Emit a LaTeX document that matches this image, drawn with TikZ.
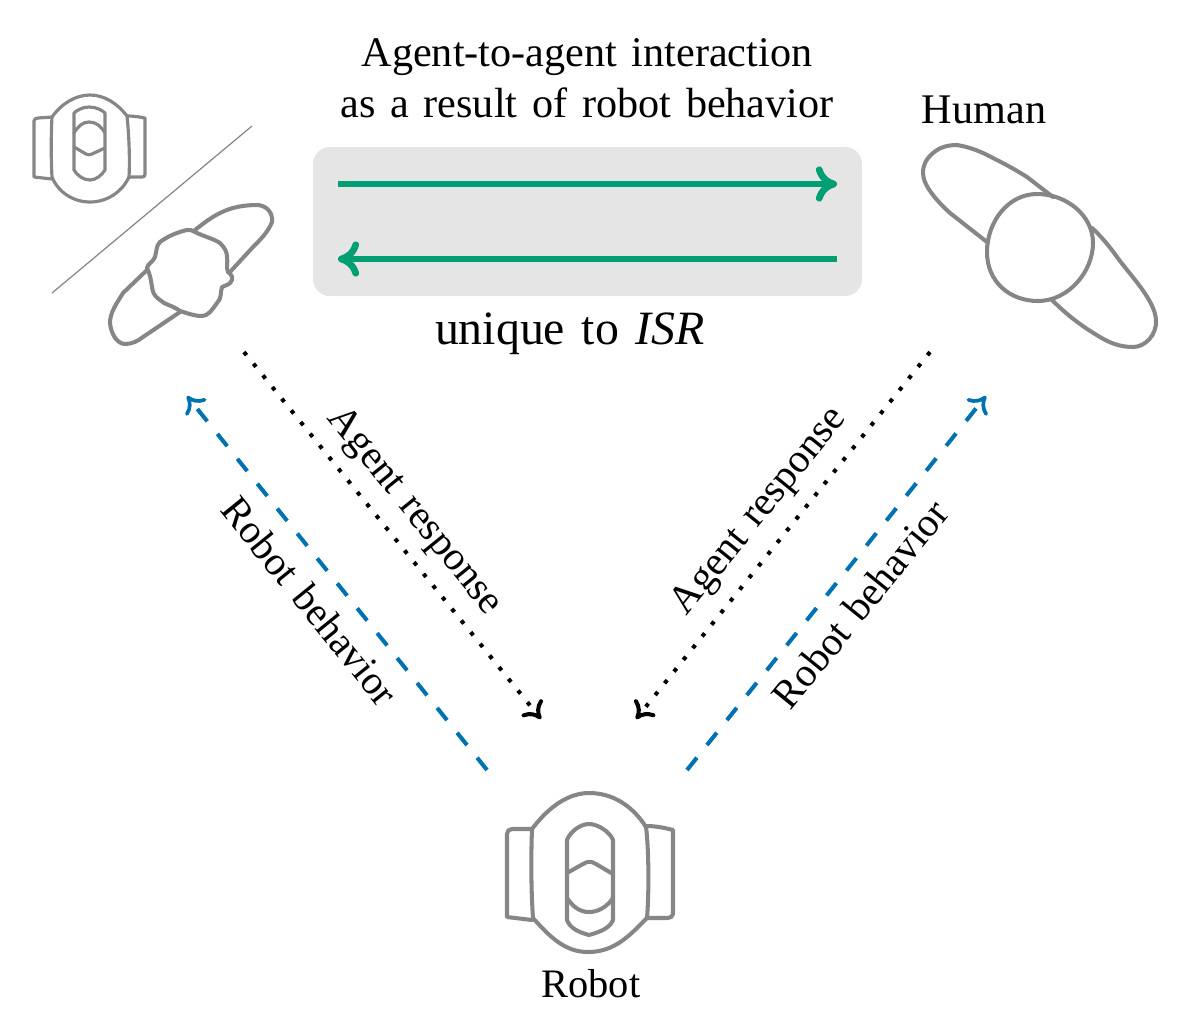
\documentclass[tikz,border=0pt]{standalone}
\usepackage{fontspec}
\setmainfont[WordSpace=1.4]{Liberation Serif}
\usetikzlibrary{arrows.meta}
\definecolor{okgreen}{HTML}{009E73}
\definecolor{okblue}{HTML}{0072B2}
\definecolor{figgray}{HTML}{868686}
\definecolor{panel}{HTML}{E5E5E5}
\tikzset{
  x=0.01cm,y=-0.01cm,
  fig/.style={draw=figgray,line width=1.15pt,line join=round,line cap=round},
  figthin/.style={draw=figgray,line width=0.9pt,line join=round,line cap=round},
  greenarrow/.style={draw=okgreen,line width=1.9pt,-{Computer Modern Rightarrow[length=6pt,width=10pt,line width=1.9pt,round]}},
  bluearrow/.style={draw=okblue,line width=1.15pt,dash pattern=on 4.5pt off 4.58pt,-{Computer Modern Rightarrow[length=4.5pt,width=7.5pt,line width=1.05pt,round]}},
  blackarrow/.style={draw=black,line width=1.15pt,dash pattern=on 1.15pt off 3.12pt,-{Computer Modern Rightarrow[length=4.5pt,width=7.5pt,line width=1.15pt,round]}},
  lab/.style={inner sep=0pt,font=\fontsize{12}{14}\selectfont,align=center},
  smalllab/.style={inner sep=0pt,font=\fontsize{11.5}{14}\selectfont,align=center},
  biglab/.style={inner sep=0pt,font=\fontsize{13.6}{16}\selectfont},
}
\begin{document}
\begin{tikzpicture}
\useasboundingbox (0,0) rectangle (1178,1014);
% panel
\fill[panel,rounded corners=4.8pt] (313,147) rectangle (862,296);
% coordinates
\coordinate (g1a) at (338,184);\coordinate (g1b) at (837,184);
\coordinate (g2a) at (837,259);\coordinate (g2b) at (338,259);
\coordinate (bla) at (487,770);\coordinate (blb) at (187,396);
\coordinate (bra) at (687,770);\coordinate (brb) at (986,396);
\coordinate (dla) at (244,352);\coordinate (dlb) at (541,719);
\coordinate (dra) at (930,352);\coordinate (drb) at (636,719);
\coordinate (sepa) at (252,126);\coordinate (sepb) at (52,293);
\draw[greenarrow] (g1a) -- (g1b);
\draw[greenarrow] (g2a) -- (g2b);
\draw[bluearrow] (bla) -- (blb);
\draw[bluearrow] (bra) -- (brb);
\draw[blackarrow] (dla) -- (dlb);
\draw[blackarrow] (dra) -- (drb);
\draw[draw=figgray,line width=0.35pt] (sepa) -- (sepb);
% labels
\node[lab] (t1) at (587,57) {Agent-to-agent interaction};
\node[lab] (t2) at (587,103) {as a result of robot behavior};
\node[lab] (human) at (984,110) {Human};
\node[biglab] (uniq) at (570,334) {unique to \textit{ISR}};
\node[smalllab] (robot) at (591,984) {Robot};
\node[smalllab,rotate=-51] (l1) at (414,512) {Agent response};
\node[smalllab,rotate=-51] (l2) at (310,601) {Robot behavior};
\node[smalllab,rotate=51] (l3) at (760,512) {Agent response};
\node[smalllab,rotate=51] (l4) at (860,604) {Robot behavior};
% bottom robot
\draw[fig] (532,829) .. controls (550,805) and (570,793) .. (589,793) .. controls (612,793) and (632,805) .. (646,827)
  .. controls (649,850) and (649,895) .. (647,918) .. controls (630,935) and (615,952) .. (588,952)
  .. controls (565,952) and (550,937) .. (533,918) .. controls (531,890) and (531,855) .. (532,829) -- cycle;
\draw[fig] (532,829) -- (512,829) .. controls (509,829) and (507,831) .. (507,834) -- (507,917) -- (532,920);
\draw[fig] (647,826) .. controls (656,826) and (665,828) .. (673,830) -- (673,914) .. controls (673,917) and (670,918) .. (667,918) -- (647,918);
\draw[fig] (567,840) .. controls (570,832) and (580,824) .. (589,824) .. controls (598,824) and (610,832) .. (613,840)
  -- (613,920) .. controls (610,928) and (600,932) .. (589,935) .. controls (578,932) and (570,928) .. (567,920) -- cycle;
\draw[fig] (567,873) -- (583,864) .. controls (588,861) and (591,861) .. (596,864) -- (613,874);
\draw[fig] (567,898) .. controls (573,907) and (580,912) .. (589,912) .. controls (598,912) and (607,907) .. (613,898);
% top robot
\draw[figthin] (52,117) .. controls (62,103) and (76,95) .. (90,95) .. controls (104,95) and (117,103) .. (127,116)
  .. controls (129,135) and (130,160) .. (129,177) .. controls (122,192) and (107,202) .. (90,202)
  .. controls (73,202) and (58,192) .. (52,177) .. controls (51,160) and (51,135) .. (52,117) -- cycle;
\draw[figthin] (52,117) -- (38,118) .. controls (36,118) and (34,119) .. (34,121) -- (34,177) -- (52,179);
\draw[figthin] (128,116) .. controls (134,116) and (140,117) .. (145,118) -- (145,174) .. controls (145,176) and (144,177) .. (142,177) -- (129,177);
\draw[figthin] (74,113) .. controls (77,110) and (83,107) .. (89,107) .. controls (96,107) and (102,110) .. (105,113)
  -- (105,170) .. controls (102,175) and (96,180) .. (90,180) .. controls (83,180) and (77,175) .. (74,170) -- cycle;
\draw[figthin] (74,133) .. controls (78,126) and (83,122) .. (89,122) .. controls (96,122) and (101,126) .. (105,133);
\draw[figthin] (74,147) -- (86,154) .. controls (88,155) and (90,155) .. (92,154) -- (105,148);
% left human
\draw[fig] (195,230) .. controls (205,222) and (212,217) .. (220,213) .. controls (232,207) and (244,205) .. (258,205)
  .. controls (268,206) and (273,214) .. (272,222) .. controls (268,232) and (261,239) .. (253,247) -- (230,272);
\draw[fig] (147,270) -- (123,293) .. controls (117,303) and (110,312) .. (110,323) .. controls (111,335) and (118,344) .. (125,344)
  .. controls (132,344) and (138,341) .. (143,337) -- (180,312);
\draw[fig] (195,232) .. controls (205,237) and (212,238) .. (220,243) .. controls (225,248) and (227,252) .. (227,257)
  .. controls (228,262) and (226,268) .. (228,272) .. controls (232,275) and (233,278) .. (232,280)
  .. controls (230,285) and (226,285) .. (222,287) .. controls (220,293) and (222,298) .. (217,303)
  .. controls (212,310) and (208,316) .. (202,316) .. controls (194,316) and (187,313) .. (180,311)
  .. controls (172,305) and (165,305) .. (160,300) .. controls (153,295) and (153,292) .. (152,287)
  .. controls (151,280) and (150,274) .. (147,268) .. controls (148,263) and (153,262) .. (155,257)
  .. controls (157,250) and (156,246) .. (160,242) .. controls (168,236) and (178,232) .. (187,230)
  .. controls (190,230) and (193,230) .. (195,232) -- cycle;
% right human
\draw[fig] (987,242) -- (950,213) .. controls (938,202) and (923,186) .. (923,173) .. controls (923,165) and (926,159) .. (933,153)
  .. controls (940,147) and (948,145) .. (957,145) .. controls (970,147) and (982,152) .. (993,158)
  .. controls (1005,164) and (1016,170) .. (1027,177) -- (1053,197);
\draw[fig] (1092,228) .. controls (1100,235) and (1110,247) .. (1117,257) .. controls (1130,275) and (1155,300) .. (1156,320)
  .. controls (1157,335) and (1145,347) .. (1133,347) .. controls (1120,347) and (1110,343) .. (1100,337)
  .. controls (1083,327) and (1068,316) .. (1052,300);
\draw[fig] (1037,194) .. controls (1066,194) and (1093,215) .. (1093,243) .. controls (1093,272) and (1068,301) .. (1038,301)
  .. controls (1010,301) and (987,282) .. (987,252) .. controls (987,222) and (1008,194) .. (1037,194) -- cycle;
\end{tikzpicture}
\end{document}
